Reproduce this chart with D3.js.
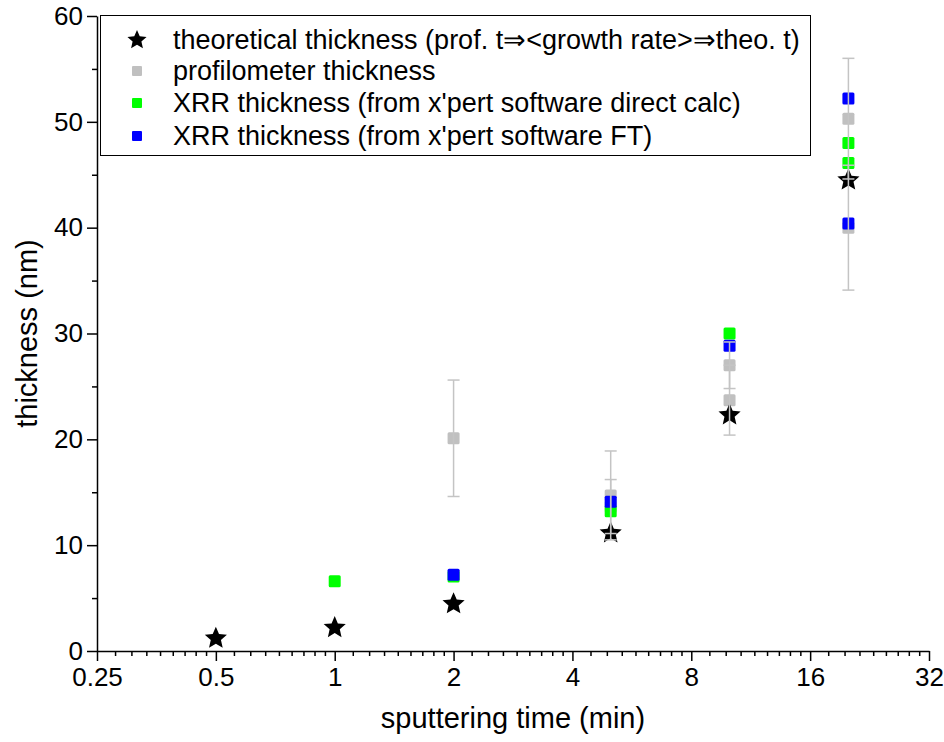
<!DOCTYPE html>
<html>
<head>
<meta charset="utf-8">
<script src="https://cdn.jsdelivr.net/npm/d3@7"></script>
<style>
  html, body { margin: 0; padding: 0; background: #fff; }
  svg text { font-family: "Liberation Sans", Arial, sans-serif; fill: #000; }
</style>
</head>
<body>
<svg id="chart" width="944" height="742"></svg>
<script>
// Sputtering time (min) for each deposition
const sputterTimes = [0.5, 1, 2, 5, 10, 20];

// Theoretical thickness (nm), one value per sputtering time
const theoreticalThickness = [1.2, 2.2, 4.45, 11.15, 22.3, 44.5];

// Profilometer measurements: time, mean thickness and error (nm)
const profTime  = [2, 5, 5, 10, 10, 20, 20];
const profValue = [20.1, 14.7, 13.65, 27.0, 23.7, 50.3, 40.0];
const profError = [5.5, 4.2, 2.55, 2.2, 3.3, 5.7, 5.9];

// XRR thickness, direct calculation
const xrrDirectTime  = [1, 2, 5, 10, 20, 20];
const xrrDirectValue = [6.6, 7.05, 13.2, 30.0, 48.0, 46.1];

// XRR thickness, Fourier transform
const xrrFtTime  = [2, 5, 10, 20, 20];
const xrrFtValue = [7.2, 14.1, 28.85, 52.2, 40.4];

// Axis ticks
const xTickValues = [0.25, 0.5, 1, 2, 4, 8, 16, 32];
const xTickLabels = ["0.25", "0.5", "1", "2", "4", "8", "16", "32"];
const yTickValues = [0, 10, 20, 30, 40, 50, 60];
const yMinorValues = [5, 15, 25, 35, 45, 55];

const legendLabels = [
  "theoretical thickness (prof. t\u21D2<growth rate>\u21D2theo. t)",
  "profilometer thickness",
  "XRR thickness (from x'pert software direct calc)",
  "XRR thickness (from x'pert software FT)"
];

const colors = { theo: "#000000", prof: "#c0c0c0", direct: "#00ff00", ft: "#0000ff", err: "#c4c4c4" };

const svg = d3.select("#chart");
const plotLeft = 97, plotRight = 929, plotTop = 16, plotBottom = 651;

const x = d3.scaleLog().base(2).domain([0.25, 32]).range([plotLeft, plotRight]);
const y = d3.scaleLinear().domain([0, 60]).range([plotBottom, plotTop]);

// Minor x ticks: eight evenly spaced ticks inside each doubling interval
const xMinor = [];
for (let i = 0; i < xTickValues.length - 1; i++) {
  const a = xTickValues[i], b = xTickValues[i + 1];
  for (let k = 1; k <= 8; k++) xMinor.push(a + (b - a) * k / 9);
}

// Five-pointed star with a slightly fuller body than d3.symbolStar
const fatStar = {
  draw(context, size) {
    const R = Math.sqrt(size) * 0.92, r = R * 0.46;
    for (let i = 0; i < 10; i++) {
      const rad = i % 2 ? r : R;
      const a = -Math.PI / 2 + i * Math.PI / 5;
      const px = rad * Math.cos(a), py = rad * Math.sin(a);
      if (i === 0) context.moveTo(px, py); else context.lineTo(px, py);
    }
    context.closePath();
  }
};

// ---- Axes ----
svg.append("g").attr("transform", `translate(0,${plotBottom})`)
  .call(d3.axisBottom(x).tickValues(xTickValues)
    .tickFormat((d, i) => xTickLabels[i]).tickSizeInner(10).tickSizeOuter(0).tickPadding(7));
svg.append("g").attr("transform", `translate(0,${plotBottom})`)
  .call(d3.axisBottom(x).tickValues(xMinor).tickFormat("").tickSizeInner(5).tickSizeOuter(0))
  .select(".domain").remove();

svg.append("g").attr("transform", `translate(${plotLeft},0)`)
  .call(d3.axisLeft(y).tickValues(yTickValues).tickSizeInner(10).tickSizeOuter(0).tickPadding(4));
svg.append("g").attr("transform", `translate(${plotLeft},0)`)
  .call(d3.axisLeft(y).tickValues(yMinorValues).tickFormat("").tickSizeInner(5).tickSizeOuter(0))
  .select(".domain").remove();

svg.selectAll(".domain, .tick line").attr("stroke", "#000").attr("stroke-width", 1.5);
svg.selectAll(".tick text").attr("font-size", 26).attr("font-family", "Liberation Sans, Arial, sans-serif").attr("fill", "#000");

// Axis titles
svg.append("text").attr("x", (plotLeft + plotRight) / 2).attr("y", 728)
  .attr("text-anchor", "middle").attr("font-size", 29).text("sputtering time (min)");
svg.append("text").attr("transform", `translate(37,${(plotTop + plotBottom) / 2}) rotate(-90)`)
  .attr("text-anchor", "middle").attr("font-size", 29).text("thickness (nm)");

// ---- Data marks ----
const sq = 12;
const plot = svg.append("g");

function squares(times, values, color) {
  plot.append("g").selectAll("rect").data(times).join("rect")
    .attr("x", (d) => x(d) - sq / 2)
    .attr("y", (d, i) => y(values[i]) - sq / 2)
    .attr("width", sq).attr("height", sq).attr("rx", 1.5)
    .attr("fill", color);
}
squares(profTime, profValue, colors.prof);
squares(xrrDirectTime, xrrDirectValue, colors.direct);
squares(xrrFtTime, xrrFtValue, colors.ft);

const star = d3.symbol().type(fatStar).size(160);
plot.append("g").selectAll("path").data(sputterTimes).join("path")
  .attr("d", star)
  .attr("transform", (d, i) => `translate(${x(d)},${y(theoreticalThickness[i])})`)
  .attr("fill", colors.theo);

// Error bars for the profilometer values
const eb = plot.append("g").attr("stroke", colors.err).attr("stroke-width", 1.5).attr("fill", "none");
profTime.forEach((t, i) => {
  const cx = x(t), hi = y(profValue[i] + profError[i]), lo = y(profValue[i] - profError[i]);
  eb.append("line").attr("x1", cx).attr("x2", cx).attr("y1", hi).attr("y2", lo);
  eb.append("line").attr("x1", cx - 6).attr("x2", cx + 6).attr("y1", hi).attr("y2", hi);
  eb.append("line").attr("x1", cx - 6).attr("x2", cx + 6).attr("y1", lo).attr("y2", lo);
});

// ---- Legend ----
const lg = svg.append("g");
lg.append("rect").attr("x", 100.5).attr("y", 15.5).attr("width", 710).attr("height", 140)
  .attr("fill", "#fff").attr("stroke", "#000").attr("stroke-width", 1);
const rowY = [40, 71, 103, 136];
const legendColors = [colors.theo, colors.prof, colors.direct, colors.ft];
legendLabels.forEach((label, i) => {
  if (i === 0) {
    lg.append("path").attr("d", d3.symbol().type(fatStar).size(120))
      .attr("transform", `translate(137,${rowY[i]})`).attr("fill", colors.theo);
  } else {
    lg.append("rect").attr("x", 137 - 5).attr("y", rowY[i] - 5).attr("width", 10).attr("height", 10)
      .attr("rx", 1).attr("fill", legendColors[i]);
  }
  lg.append("text").attr("x", 173).attr("y", rowY[i]).attr("dy", "0.35em")
    .attr("font-size", 27).text(label);
});
</script>
</body>
</html>
